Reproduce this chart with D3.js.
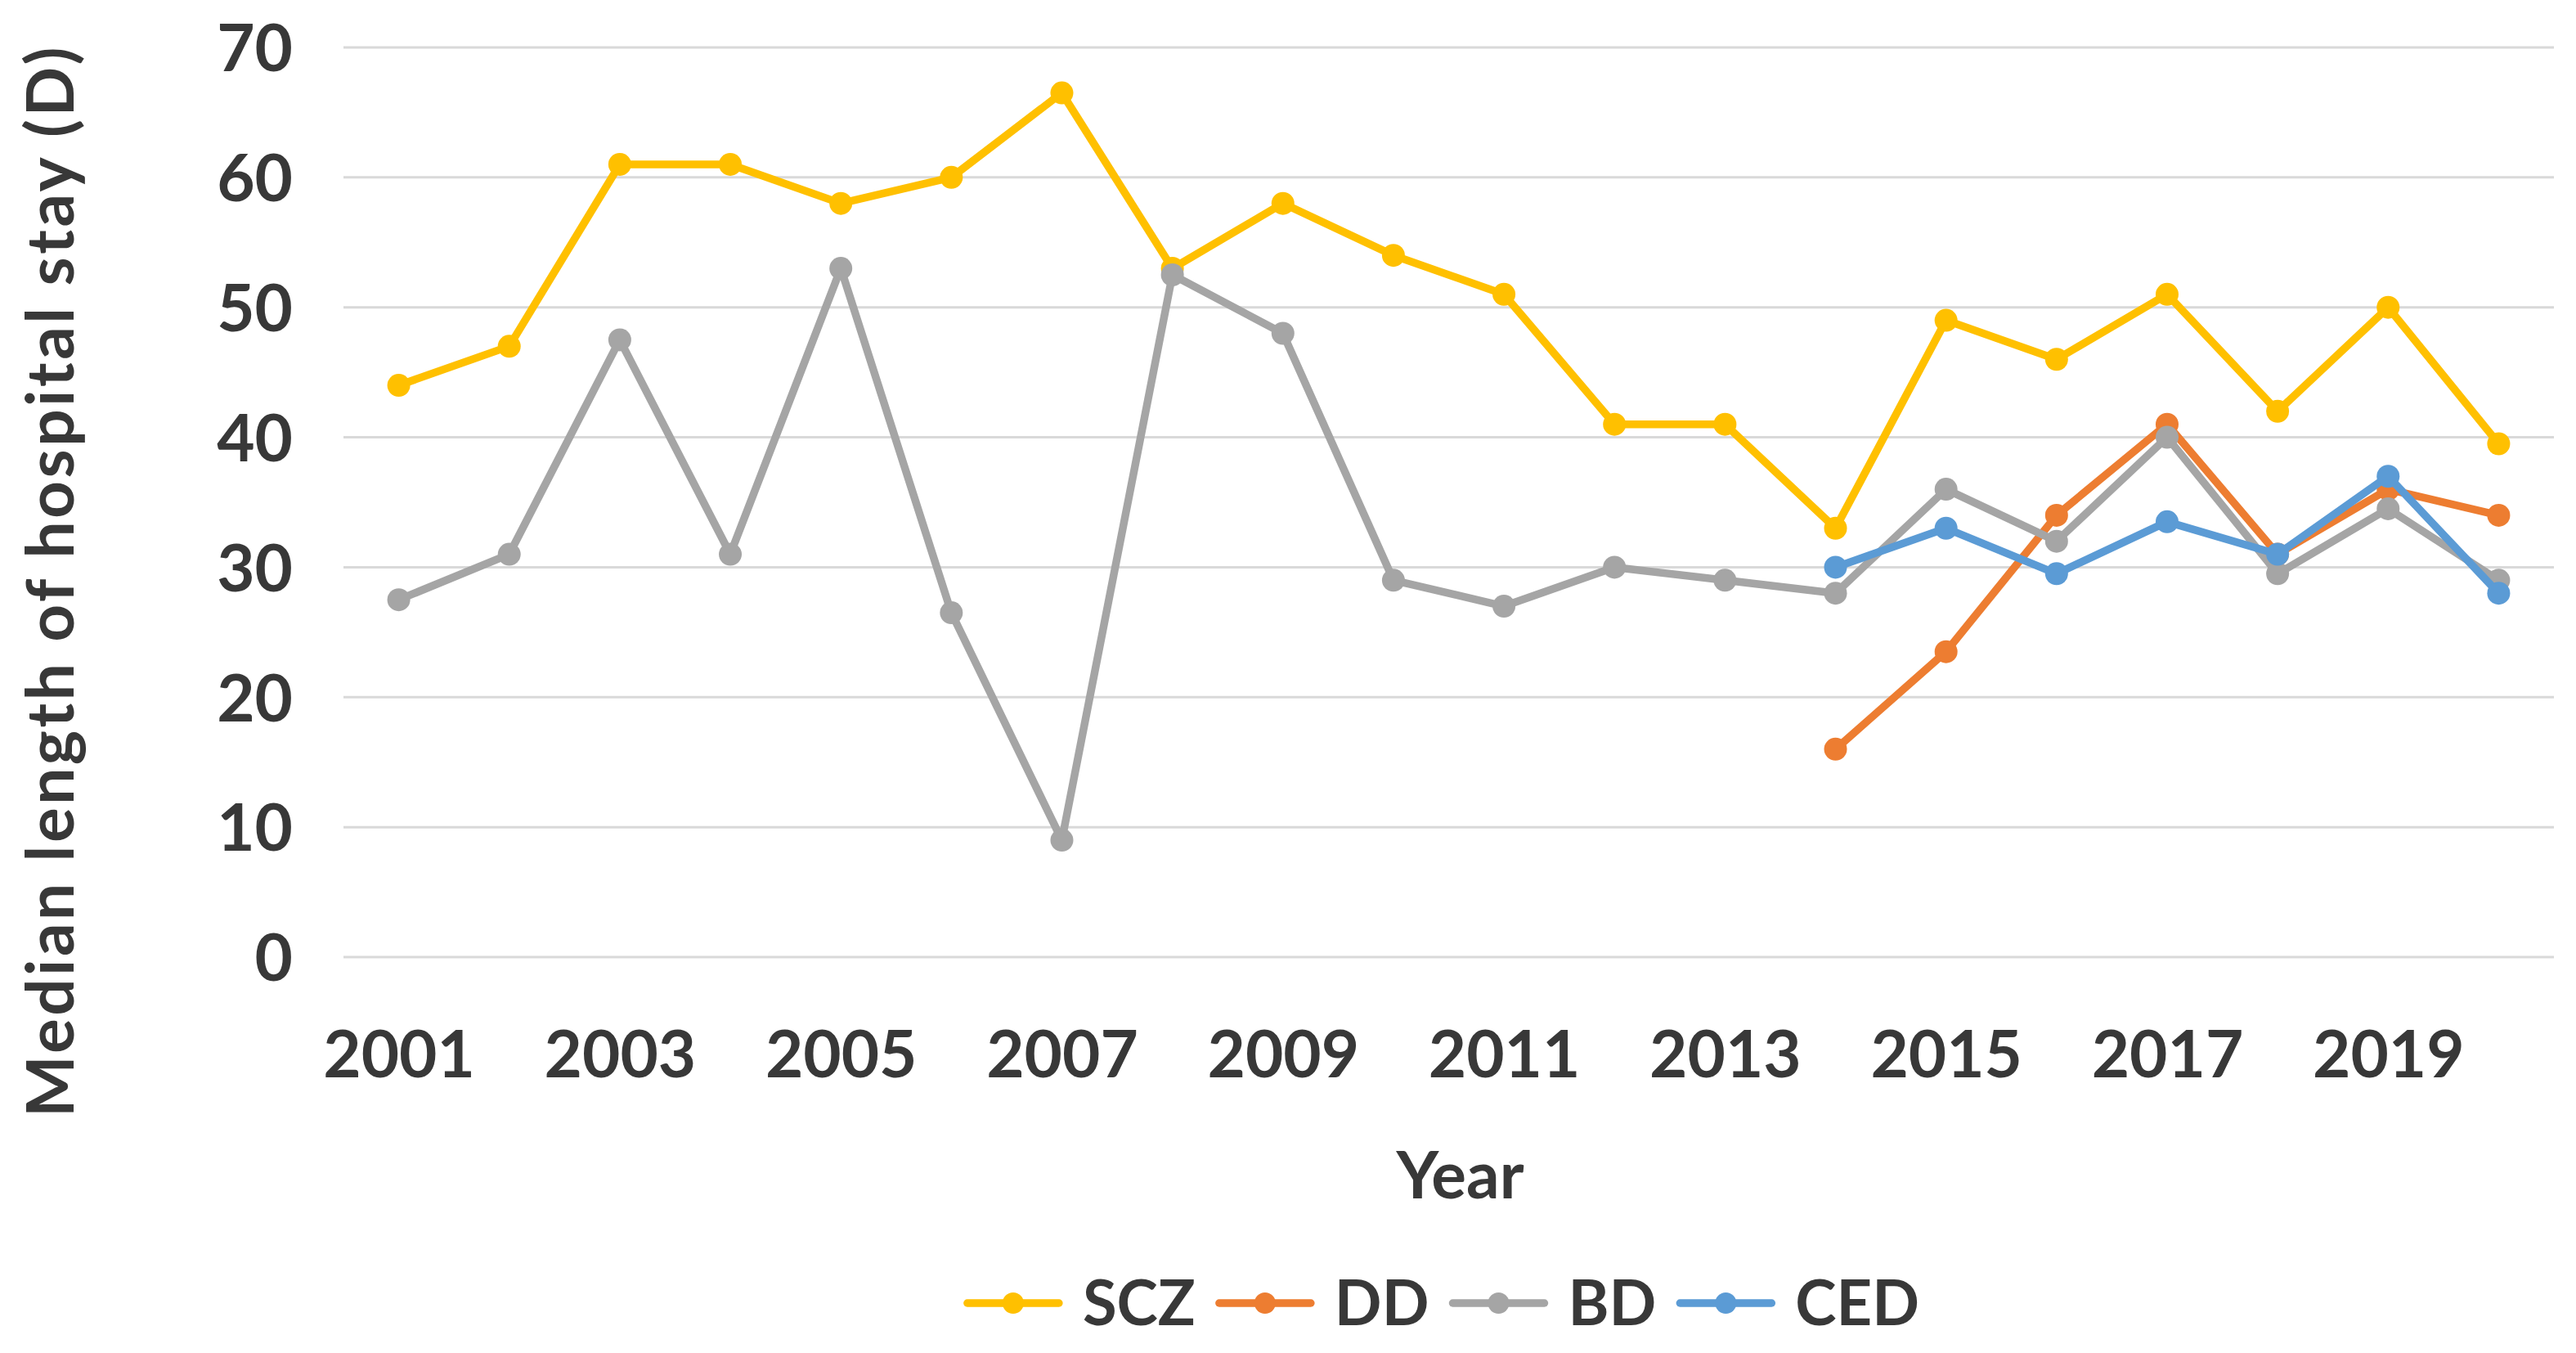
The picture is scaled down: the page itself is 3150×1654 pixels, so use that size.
<!DOCTYPE html>
<html>
<head>
<meta charset="utf-8">
<script src="https://cdn.jsdelivr.net/npm/d3@7"></script>
<style>
  body { margin: 0; background: #fff; }
  text { font-family: Lato, "Open Sans", sans-serif; font-weight: bold; fill: #383838; }
</style>
</head>
<body>
<div id="container"></div>
<script>
let years = [2001, 2002, 2003, 2004, 2005, 2006, 2007, 2008, 2009, 2010,
             2011, 2012, 2013, 2014, 2015, 2016, 2017, 2018, 2019, 2020]
let yearLabels = ['2001', '2003', '2005', '2007', '2009', '2011', '2013', '2015', '2017', '2019']
let yTicks = [0, 10, 20, 30, 40, 50, 60, 70]

// null = no value that year
let scz = [44, 47, 61, 61, 58, 60, 66.5, 53, 58, 54, 51, 41, 41, 33, 49, 46, 51, 42, 50, 39.5]
let dd  = [null, null, null, null, null, null, null, null, null, null,
           null, null, null, 16, 23.5, 34, 41, 31, 36, 34]
let bd  = [27.5, 31, 47.5, 31, 53, 26.5, 9, 52.5, 48, 29, 27, 30, 29, 28, 36, 32, 40, 29.5, 34.5, 29]
let ced = [null, null, null, null, null, null, null, null, null, null,
           null, null, null, 30, 33, 29.5, 33.5, 31, 37, 28]

let seriesNames = ['SCZ', 'DD', 'BD', 'CED']
let seriesColors = ['#FFC000', '#ED7D31', '#A5A5A5', '#5B9BD5']

let width = 3150
let height = 1654
let plot = {left: 420, right: 3123, top: 58, bottom: 1170}
let svg

function main() {
    createSVG()
    build()
}

function createSVG() {
    svg = d3.select('#container').append('svg')
      .attr('width', width)
      .attr('height', height)
}

function build() {
    let xScale = d3.scalePoint()
      .domain(years)
      .range([plot.left, plot.right])
      .padding(0.5)

    let yScale = d3.scaleLinear()
      .domain([0, 70])
      .range([plot.bottom, plot.top])

    // gridlines
    svg.append('g')
      .selectAll('line')
      .data(yTicks)
      .enter()
      .append('line')
      .attr('x1', plot.left)
      .attr('x2', plot.right)
      .attr('y1', d => yScale(d))
      .attr('y2', d => yScale(d))
      .style('stroke', '#d9d9d9')
      .style('stroke-width', 3)

    let yAxis = d3.axisLeft(yScale)
      .tickValues(yTicks)
      .tickSize(0)
      .tickPadding(62)

    let gy = svg.append('g')
      .attr('transform', `translate(${plot.left},0)`)
      .call(yAxis)
    gy.select('.domain').remove()
    gy.selectAll('text')
      .style('font-size', '80px')
      .attr('dy', '0.36em')

    let xAxis = d3.axisBottom(xScale)
      .tickValues(yearLabels.map(Number))
      .tickFormat(d3.format('d'))
      .tickSize(0)
      .tickPadding(147)

    let gx = svg.append('g')
      .attr('transform', `translate(0,${plot.bottom})`)
      .call(xAxis)
    gx.select('.domain').remove()
    gx.selectAll('text')
      .style('font-size', '80px')
      .attr('dy', '0')

    let allSeries = [scz, dd, bd, ced]
    let line = d3.line()
      .defined(d => d.v !== null)
      .x(d => xScale(d.year))
      .y(d => yScale(d.v))

    allSeries.forEach(function(values, i) {
        let pts = years.map((y, j) => ({year: y, v: values[j]}))
        let g = svg.append('g')
        g.append('path')
          .datum(pts)
          .attr('d', line)
          .style('fill', 'none')
          .style('stroke', seriesColors[i])
          .style('stroke-width', 9.5)
          .style('stroke-linejoin', 'round')
          .style('stroke-linecap', 'round')
        g.selectAll('circle')
          .data(pts.filter(d => d.v !== null))
          .enter()
          .append('circle')
          .attr('cx', d => xScale(d.year))
          .attr('cy', d => yScale(d.v))
          .attr('r', 14)
          .style('fill', seriesColors[i])
    })

    // axis titles
    svg.append('text')
      .attr('x', (plot.left + plot.right) / 2 + 14)
      .attr('y', 1465)
      .attr('text-anchor', 'middle')
      .style('font-size', '80px')
      .text('Year')

    svg.append('text')
      .attr('transform', 'translate(90,710) rotate(-90)')
      .attr('text-anchor', 'middle')
      .style('font-size', '80px')
      .style('letter-spacing', '3.5px')
      .text('Median length of hospital stay (D)')

    // legend
    let legend = svg.append('g')
    let lineLen = 112
    let gap = 29
    let x = 0
    seriesNames.forEach(function(name, i) {
        let item = legend.append('g')
        item.append('line')
          .attr('x1', 0).attr('x2', lineLen)
          .attr('y1', 0).attr('y2', 0)
          .style('stroke', seriesColors[i])
          .style('stroke-width', 9.5)
          .style('stroke-linecap', 'round')
        item.append('circle')
          .attr('cx', lineLen / 2).attr('cy', 0).attr('r', 13)
          .style('fill', seriesColors[i])
        let t = item.append('text')
          .attr('x', lineLen + gap)
          .attr('y', 0)
          .attr('dy', '0.36em')
          .style('font-size', '76px')
          .text(name)
        item.attr('transform', `translate(${x},0)`)
        x += lineLen + gap + t.node().getComputedTextLength() + gap
    })
    let total = x - gap
    legend.attr('transform', `translate(${1765 - total / 2},1593)`)
}

main()
</script>
</body>
</html>
